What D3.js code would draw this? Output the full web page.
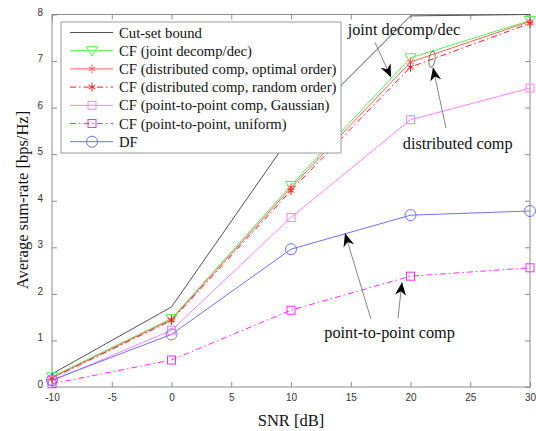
<!DOCTYPE html>
<meta charset="utf-8">
<html>
  <head>
    <script src="https://d3js.org/d3.v7.min.js"></script>
    <style>
      body { margin: 0; background: #fff; }
      .tick text { font-family: "Liberation Sans", Arial, sans-serif; font-size: 10px; fill: #333; }
      .tick line { stroke: #8c8c8c; }
    </style>
  </head>
  <body>
    <svg id="viz" width="536" height="431"></svg>
    <script>
    // SNR values on the x axis
    const snr = [-10, 0, 10, 20, 30];
    // average sum-rate per scheme
    const cutSet     = [0.28, 1.72, 5.40, 7.97, 8.00];
    const cfJoint    = [0.22, 1.47, 4.33, 7.07, 7.87];
    const cfDistOpt  = [0.20, 1.45, 4.28, 6.98, 7.85];
    const cfDistRand = [0.19, 1.43, 4.22, 6.87, 7.81];
    const cfP2PGauss = [0.13, 1.22, 3.64, 5.74, 6.42];
    const cfP2PUnif  = [0.07, 0.58, 1.65, 2.38, 2.56];
    const dfRate     = [0.15, 1.13, 2.96, 3.69, 3.78];

    const labels = ["Cut-set bound", "CF (joint decomp/dec)", "CF (distributed comp, optimal order)",
      "CF (distributed comp, random order)", "CF (point-to-point comp, Gaussian)",
      "CF (point-to-point, uniform)", "DF"];
    const xTicks = [-10, -5, 0, 5, 10, 15, 20, 25, 30];
    const yTicks = [0, 1, 2, 3, 4, 5, 6, 7, 8];

    const series = [
      {name: labels[0], values: cutSet,     color: "#505050", dash: null,          marker: "none"},
      {name: labels[1], values: cfJoint,    color: "#55ee55", dash: null,          marker: "tri"},
      {name: labels[2], values: cfDistOpt,  color: "#ff6060", dash: null,          marker: "star"},
      {name: labels[3], values: cfDistRand, color: "#ff1a1a", dash: "6,3,1.5,3",   marker: "star"},
      {name: labels[4], values: cfP2PGauss, color: "#ff80ff", dash: null,          marker: "square"},
      {name: labels[5], values: cfP2PUnif,  color: "#ff2bff", dash: "6,3,1.5,3",   marker: "square"},
      {name: labels[6], values: dfRate,     color: "#6f6fff", dash: null,          marker: "circle"}
    ];

    // annotations in data units
    const notes = [
      {text: "joint decomp/dec",    x: 19.45, y: 7.66},
      {text: "distributed comp",    x: 23.95, y: 5.21},
      {text: "point-to-point comp", x: 18.25, y: 1.16}
    ];
    const arrows = [
      {x1: 17.03, y1: 7.40, x2: 18.37, y2: 6.65},
      {x1: 22.97, y1: 5.56, x2: 21.88, y2: 6.86},
      {x1: 16.69, y1: 1.46, x2: 14.52, y2: 3.30},
      {x1: 18.95, y1: 1.48, x2: 19.29, y2: 2.25}
    ];

    const serifFont = '"Liberation Serif", "Times New Roman", serif';
    const padL = 52, padR = 530, padT = 14.5, padB = 387;
    const svg = d3.select("#viz");

    const x = d3.scaleLinear().domain([-10, 30]).range([padL, padR]);
    const y = d3.scaleLinear().domain([0, 8]).range([padB, padT]);

    svg.append("defs").append("clipPath").attr("id", "plotclip")
      .append("rect").attr("x", padL).attr("y", padT - 1)
      .attr("width", padR - padL).attr("height", padB - padT + 1);

    // axes with inward ticks on all four sides
    const gx = svg.append("g").attr("transform", "translate(0," + padB + ")")
      .call(d3.axisBottom(x).tickValues(xTicks).tickFormat(d => String(d))
        .tickSizeInner(-5).tickSizeOuter(0).tickPadding(7));
    const gy = svg.append("g").attr("transform", "translate(" + padL + ",0)")
      .call(d3.axisLeft(y).tickValues(yTicks).tickFormat(d => String(d))
        .tickSizeInner(-5).tickSizeOuter(0).tickPadding(9));
    gy.selectAll(".tick text").attr("dy", "0.05em");
    svg.append("g").attr("transform", "translate(0," + padT + ")")
      .call(d3.axisTop(x).tickValues(xTicks).tickSizeInner(-5).tickSizeOuter(0).tickFormat(""));
    svg.append("g").attr("transform", "translate(" + padR + ",0)")
      .call(d3.axisRight(y).tickValues(yTicks).tickSizeInner(-5).tickSizeOuter(0).tickFormat(""));
    svg.selectAll(".domain").remove();
    svg.append("rect").attr("x", padL).attr("y", padT)
      .attr("width", padR - padL).attr("height", padB - padT)
      .attr("fill", "none").attr("stroke", "#8c8c8c").attr("stroke-width", 1);

    // marker drawer
    function drawMarker(g, type, cx, cy, color) {
      if (type === "tri") {
        g.append("path").attr("d", "M" + (cx - 5.5) + "," + (cy - 4) + "L" + (cx + 5.5) + "," + (cy - 4) + "L" + cx + "," + (cy + 5.5) + "Z")
          .attr("fill", "none").attr("stroke", color);
      } else if (type === "star") {
        const r = 4.5, d = r * 0.72;
        g.append("path").attr("d",
          "M" + cx + "," + (cy - r) + "V" + (cy + r) +
          "M" + (cx - d) + "," + (cy - d * 0.6) + "L" + (cx + d) + "," + (cy + d * 0.6) +
          "M" + (cx - d) + "," + (cy + d * 0.6) + "L" + (cx + d) + "," + (cy - d * 0.6))
          .attr("fill", "none").attr("stroke", color);
      } else if (type === "square") {
        g.append("rect").attr("x", cx - 4).attr("y", cy - 4).attr("width", 8).attr("height", 8)
          .attr("fill", "none").attr("stroke", color);
      } else if (type === "circle") {
        g.append("circle").attr("cx", cx).attr("cy", cy).attr("r", 5.5)
          .attr("fill", "none").attr("stroke", color);
      }
    }

    const line = d3.line().x((d, i) => x(snr[i])).y(d => y(d));
    const plot = svg.append("g").attr("clip-path", "url(#plotclip)");

    series.forEach(s => {
      plot.append("path").datum(s.values)
        .attr("d", line)
        .attr("fill", "none")
        .attr("stroke", s.color)
        .attr("stroke-width", 1)
        .attr("stroke-dasharray", s.dash);
    });
    const markG = svg.append("g");
    series.forEach(s => {
      s.values.forEach((v, i) => drawMarker(markG, s.marker, x(snr[i]), y(v), s.color));
    });

    // legend
    const lg = svg.append("g");
    lg.append("rect").attr("x", 61).attr("y", 22).attr("width", 280).attr("height", 131)
      .attr("fill", "#fff").attr("stroke", "#9a9a9a");
    series.forEach((s, i) => {
      const ly = 32.5 + i * 18.2;
      lg.append("line").attr("x1", 70).attr("x2", 113).attr("y1", ly).attr("y2", ly)
        .attr("stroke", s.color).attr("stroke-dasharray", s.dash);
      drawMarker(lg, s.marker, 92, ly, s.color);
      lg.append("text").attr("x", 119).attr("y", ly + 5)
        .style("font-family", serifFont).style("font-size", "14.7px").style("fill", "#111")
        .text(s.name);
    });

    // annotations
    notes.forEach(n => {
      svg.append("text")
        .attr("x", x(n.x)).attr("y", y(n.y) + 5)
        .attr("text-anchor", "middle")
        .style("font-family", serifFont).style("font-size", "16.3px").style("fill", "#111")
        .text(n.text);
    });
    svg.append("ellipse").attr("cx", x(21.80)).attr("cy", y(7.04)).attr("rx", 3).attr("ry", 8)
      .attr("fill", "none").attr("stroke", "#555").attr("stroke-width", 0.8)
      .attr("transform", "rotate(8," + x(21.80) + "," + y(7.04) + ")");

    arrows.forEach(a => {
      const x1 = x(a.x1), y1 = y(a.y1), x2 = x(a.x2), y2 = y(a.y2);
      const ang = Math.atan2(y2 - y1, x2 - x1) * 180 / Math.PI;
      svg.append("line").attr("x1", x1).attr("y1", y1).attr("x2", x2).attr("y2", y2)
        .attr("stroke", "#666").attr("stroke-width", 0.8);
      svg.append("path").attr("d", "M0,0L-13,-5.5L-9,0L-13,5.5Z")
        .attr("fill", "#000")
        .attr("transform", "translate(" + x2 + "," + y2 + ") rotate(" + ang + ")");
    });

    // axis titles
    svg.append("text")
      .attr("transform", "translate(28,200) rotate(-90)")
      .attr("text-anchor", "middle")
      .style("font-family", serifFont).style("font-size", "16.5px").style("fill", "#111")
      .text("Average sum-rate [bps/Hz]");
    svg.append("text")
      .attr("x", 291).attr("y", 426)
      .attr("text-anchor", "middle")
      .style("font-family", serifFont).style("font-size", "16.5px").style("fill", "#111")
      .text("SNR [dB]");
    </script>
  </body>
</html>
